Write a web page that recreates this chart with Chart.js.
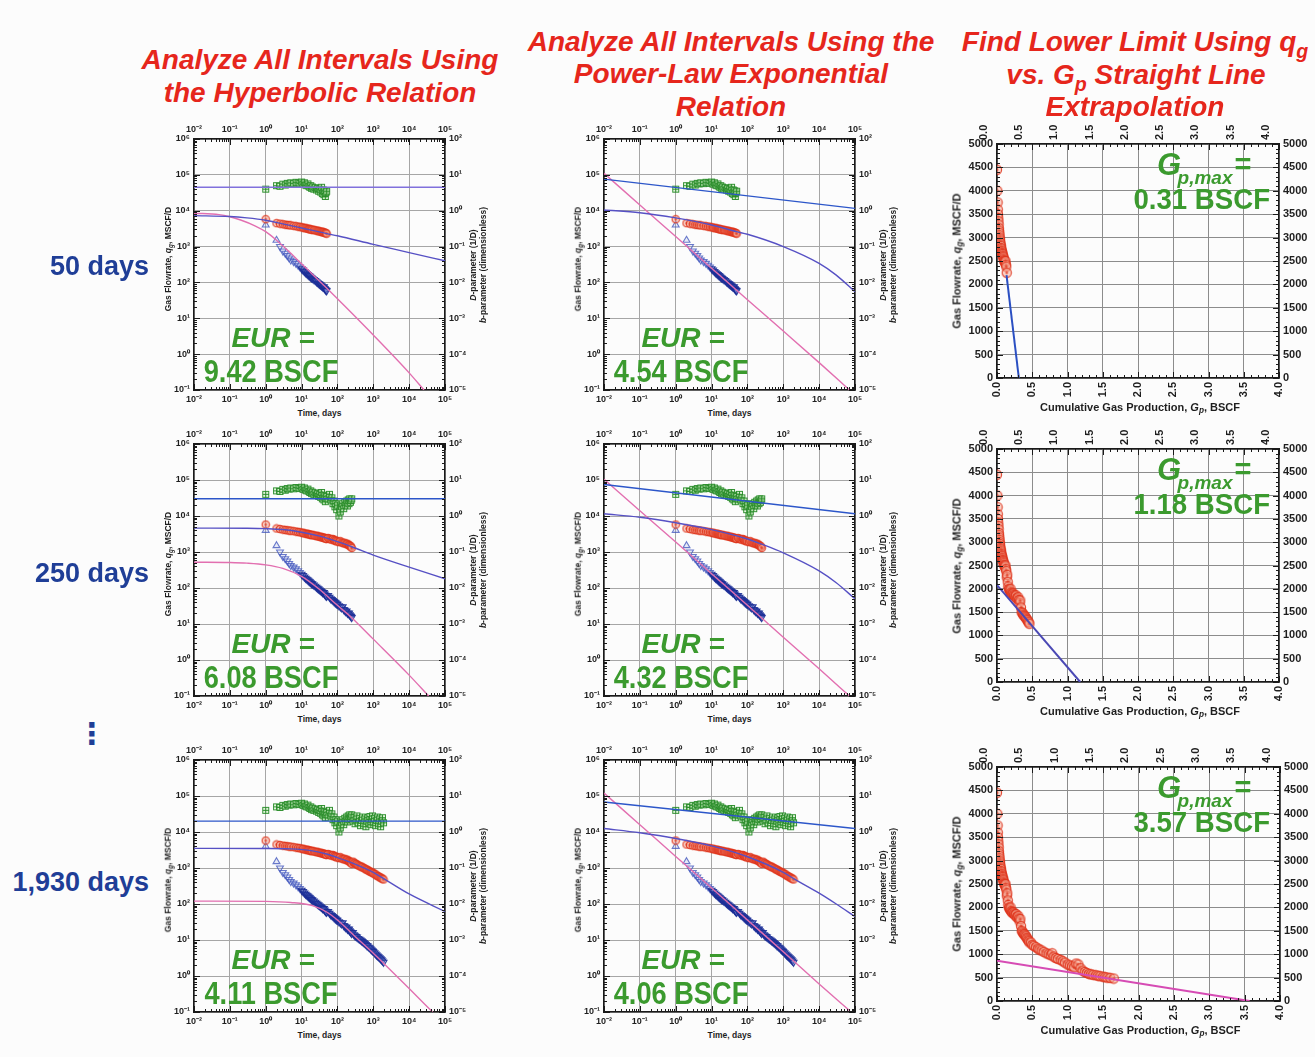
<!DOCTYPE html>
<html>
<head>
<meta charset="utf-8">
<title>Decline analysis by interval</title>
<script src="https://cdn.jsdelivr.net/npm/chart.js@4.4.1/dist/chart.umd.min.js"></script>
<style>
  html, body { margin: 0; padding: 0; }
  body {
    width: 1315px; height: 1057px; position: relative; overflow: hidden;
    background: #fcfcfc; font-family: 'Liberation Sans', Arial, sans-serif;
  }
  canvas { position: absolute; }
  .lbl { position: absolute; white-space: nowrap; line-height: 1; transform: translate(-50%, -50%); }
  .title { color: #e6261c; font-weight: bold; font-style: italic; font-size: 28px; }
  .row   { color: #1f3e97; font-weight: bold; font-size: 27px; }
  .eur   { color: #3b9a2e; font-weight: bold; }
  .ax    { color: #1e1e1e; font-weight: bold; }
  .ax sub { font-size: 0.75em; vertical-align: -0.3em; line-height: 0; }
  .title sub { font-size: 0.7em; vertical-align: -0.35em; line-height: 0; }
</style>
</head>
<body>
<script>
/* ── observed data, shared by every interval (cut off at the interval length) ── */
const obsDays = [1, 2, 2.5, 3, 3.5, 4, 4.5, 5, 6, 7, 8, 9, 10, 11, 12, 13, 14, 15, 16, 17, 18, 19, 20,
  22, 24, 26, 28, 30, 32, 34, 36, 38, 40, 42, 44, 46, 48, 50,
  55, 60, 65, 70, 75, 80, 85, 90, 95, 100, 110, 120, 130, 140, 150, 160, 170, 180, 190, 200,
  210, 220, 230, 240, 250,
  270, 290, 310, 330, 350, 380, 410, 440, 470, 500, 540, 580, 620, 660, 700, 750, 800, 850, 900,
  950, 1000, 1080, 1160, 1240, 1320, 1400, 1500, 1600, 1700, 1800, 1930];

// gas rate, MSCF/D
const obsRate = [5800, 4500, 4350, 4200, 4100, 4000, 3950, 3900, 3800, 3700, 3600, 3550, 3450,
  3400, 3300, 3250, 3200, 3150, 3100, 3050, 3000, 2980, 2950,
  2900, 2850, 2800, 2750, 2700, 2650, 2620, 2580, 2540, 2500, 2470, 2450, 2400, 2350, 2300,
  2450, 2350, 2250, 2200, 2300, 2150, 2050, 2100, 2000, 1950, 1900, 2000, 1850, 1800, 1750,
  1800, 1700, 1650, 1700, 1600, 1550, 1500, 1450, 1400, 1300,
  1500, 1400, 1350, 1300, 1250, 1200, 1150, 1100, 1080, 1050, 1000, 960, 920, 900, 870,
  830, 800, 780, 760, 740, 720, 680, 660, 620, 600, 580, 560, 540, 520, 500, 480];

// D-parameter, 1/D
const obsD = [0.40, 0.15, 0.10, 0.075, 0.065, 0.056, 0.048, 0.042, 0.038, 0.034, 0.030, 0.027, 0.024,
  0.022, 0.020, 0.0185, 0.0175, 0.0165, 0.0155, 0.0148, 0.014, 0.0133, 0.0128,
  0.012, 0.0112, 0.0104, 0.0098, 0.0093, 0.0088, 0.0084, 0.0080, 0.0076, 0.0072, 0.0075, 0.0068, 0.0063, 0.0060, 0.0058,
  0.0062, 0.0055, 0.0050, 0.0048, 0.0045, 0.0042, 0.0040, 0.0038, 0.0036, 0.0035, 0.0032, 0.0030, 0.0028, 0.0030,
  0.0025, 0.0024, 0.0022, 0.0023, 0.0020, 0.0019, 0.0020, 0.0018, 0.0017, 0.0016, 0.0015,
  0.0016, 0.0014, 0.0013, 0.00125, 0.0012, 0.0011, 0.00105, 0.0010, 0.00095, 0.0009, 0.00085, 0.0008, 0.00075,
  0.0007, 0.00068, 0.00063, 0.0006, 0.00056, 0.00053, 0.0005, 0.00048, 0.00044, 0.00041, 0.00038, 0.00036,
  0.00034, 0.00032, 0.0003, 0.00028, 0.00026, 0.00024];

// b-parameter, dimensionless
const obsB = [4.0, 5.0, 4.8, 5.5, 5.2, 5.8, 5.6, 6.0, 5.7, 6.2, 6.0, 5.8, 6.3,
  5.5, 6.0, 5.2, 5.0, 5.6, 4.8, 4.5, 5.0, 4.2, 4.6,
  4.0, 4.4, 3.8, 4.2, 3.5, 4.0, 3.3, 4.5, 3.0, 3.8, 2.8, 3.6, 2.5, 3.2, 3.5,
  3.0, 4.0, 2.8, 3.2, 2.2, 2.6, 1.8, 2.2, 1.5, 2.0, 1.0, 1.3, 1.8, 2.2, 1.6, 2.4, 2.0, 2.6, 1.9, 2.8,
  2.2, 3.0, 2.4, 2.7, 3.0,
  2.0, 2.5, 1.7, 2.2, 2.8, 1.8, 2.4, 1.5, 2.1, 2.6, 1.7, 2.3, 1.4, 2.0, 2.5,
  1.8, 2.7, 1.6, 2.2, 2.8, 1.9, 2.4, 1.5, 2.1, 2.6, 1.7, 2.3, 1.4, 2.0, 2.5, 1.8];

// rate vs cumulative production (BSCF)
const gpCum = [0.000, 0.004, 0.008, 0.011, 0.014, 0.017, 0.020, 0.023, 0.026, 0.029, 0.032, 0.035,
  0.038, 0.041, 0.044, 0.047, 0.050, 0.054, 0.058, 0.062, 0.066, 0.070, 0.074, 0.078, 0.082, 0.086,
  0.090, 0.095, 0.100, 0.105, 0.110, 0.115, 0.120, 0.126, 0.132, 0.138,
  0.145, 0.152, 0.160, 0.168, 0.176, 0.184, 0.192, 0.200, 0.210, 0.220, 0.230, 0.240, 0.250, 0.260,
  0.270, 0.280, 0.290, 0.300, 0.310, 0.320, 0.330, 0.340, 0.350, 0.360, 0.370, 0.380, 0.390, 0.400,
  0.410, 0.420, 0.430, 0.440, 0.450, 0.460,
  0.48, 0.50, 0.52, 0.55, 0.58, 0.60, 0.63, 0.66, 0.70, 0.73, 0.76, 0.78, 0.80, 0.83, 0.86, 0.90,
  0.93, 0.96, 1.00, 1.03, 1.06, 1.09, 1.12, 1.15, 1.18, 1.21, 1.24, 1.27, 1.30, 1.33, 1.36, 1.40,
  1.43, 1.46, 1.50, 1.53, 1.56, 1.60, 1.65];
const gpRate = [4450, 4000, 3750, 3600, 3500, 3420, 3350, 3280, 3200, 3150, 3100, 3050,
  3000, 2960, 2920, 2880, 2850, 2820, 2780, 2750, 2720, 2700, 2670, 2650, 2620, 2600,
  2580, 2550, 2520, 2500, 2480, 2460, 2500, 2420, 2380, 2250,
  2300, 2150, 2050, 2000, 1980, 1950, 2000, 1920, 1900, 1880, 1900, 1870, 1850, 1830,
  1860, 1800, 1780, 1820, 1760, 1700, 1750, 1600, 1500, 1480, 1450, 1430, 1420, 1400,
  1380, 1350, 1330, 1300, 1280, 1250,
  1250, 1200, 1180, 1150, 1120, 1100, 1080, 1050, 1020, 1000, 980, 1020, 950, 920, 900, 880,
  850, 820, 780, 760, 740, 720, 800, 780, 700, 650, 620, 600, 580, 570, 560, 550,
  540, 530, 520, 510, 500, 495, 480];

/* ── intervals ── */
const intervalDays   = [50, 250, 1930];
const intervalLabels = ['50 days', '250 days', '1,930 days'];
const intervalGp     = [0.14, 0.46, 1.65];
const eurHyperbolic  = [9.42, 6.08, 4.11];
const eurPowerLaw    = [4.54, 4.32, 4.06];
const gpMax          = [0.31, 1.18, 3.57];

/* ── fitted curves, [days, value] ── */
const hypBValue = [4.5, 3.0, 2.0];
const hypRate = [
  [[0.01, 7300], [0.1, 6900], [0.3, 6300], [1, 5400], [3, 4300], [10, 3300], [50, 2300], [100, 2000], [1000, 1150], [1e4, 680], [1e5, 400]],
  [[0.01, 4600], [0.3, 4550], [1, 4450], [3, 4200], [10, 3550], [30, 2800], [100, 1950], [250, 1400], [1000, 820], [1e4, 380], [1e5, 180]],
  [[0.01, 3500], [1, 3480], [5, 3400], [20, 3000], [50, 2450], [100, 1950], [300, 1300], [1000, 760], [2000, 500], [1e4, 190], [1e5, 62]]
];
const hypD = [
  [[0.01, 0.85], [0.05, 0.78], [0.1, 0.68], [0.2, 0.55], [0.5, 0.38], [1, 0.26], [2, 0.15], [5, 0.065], [10, 0.033], [50, 0.007], [100, 0.0035], [1000, 3.4e-4], [1e4, 3.0e-5], [2.6e4, 1e-5]],
  [[0.01, 0.052], [0.1, 0.051], [0.3, 0.049], [1, 0.044], [3, 0.035], [10, 0.021], [30, 0.0095], [100, 0.0033], [250, 0.0015], [1000, 3.8e-4], [1e4, 3.8e-5], [3.5e4, 1e-5]],
  [[0.01, 0.012], [1, 0.0118], [5, 0.011], [20, 0.009], [50, 0.006], [100, 0.0036], [300, 0.0013], [1000, 4.3e-4], [2000, 2.2e-4], [1e4, 4.5e-5], [4.5e4, 1e-5]]
];
const pleB = [
  [[0.01, 7.6], [1e5, 1.16]],
  [[0.01, 7.5], [1e5, 1.15]],
  [[0.01, 6.8], [1e5, 1.25]]
];
const pleRate = [
  [[0.01, 10500], [0.1, 8800], [1, 6300], [10, 4000], [50, 2600], [100, 2200], [1000, 1000], [1e4, 340], [3e4, 160], [1e5, 55]],
  [[0.01, 11500], [0.1, 9200], [1, 6500], [10, 4200], [100, 2300], [250, 1650], [1000, 950], [1e4, 300], [3e4, 140], [1e5, 50]],
  [[0.01, 12500], [0.1, 9500], [1, 6600], [10, 4100], [100, 2050], [1000, 760], [2000, 500], [1e4, 200], [3e4, 100], [1e5, 45]]
];
const pleD = [
  [[0.01, 11], [0.1, 1.45], [1, 0.19], [10, 0.025], [100, 0.0033], [1000, 4.4e-4], [1e4, 5.8e-5], [7e4, 1e-5]],
  [[0.01, 10.5], [0.1, 1.4], [1, 0.19], [10, 0.025], [100, 0.0033], [1000, 4.3e-4], [1e4, 5.7e-5], [7e4, 1e-5]],
  [[0.01, 12], [0.1, 1.6], [1, 0.21], [10, 0.028], [100, 0.0036], [1000, 4.7e-4], [1e4, 6e-5], [7e4, 1.1e-5]]
];
// start of each straight-line extrapolation [Gp, q]; it ends at (gpMax, 0)
const gpLineStart = [[0.135, 2200], [0, 2080], [0, 860]];

/* ── axis ticks ── */
const timeTicks  = [1e-2, 1e-1, 1, 1e1, 1e2, 1e3, 1e4, 1e5];
const rateTicks  = [1e-1, 1, 1e1, 1e2, 1e3, 1e4, 1e5, 1e6];
const paramTicks = [1e-5, 1e-4, 1e-3, 1e-2, 1e-1, 1, 1e1, 1e2];
const gpTicks    = [0, 0.5, 1.0, 1.5, 2.0, 2.5, 3.0, 3.5, 4.0];
const qTicks     = [0, 500, 1000, 1500, 2000, 2500, 3000, 3500, 4000, 4500, 5000];

/* ── layout (plot areas in page pixels) ── */
const hypBoxes  = [{ x: 194, y: 139, w: 251, h: 251 }, { x: 194, y: 444, w: 251, h: 252 }, { x: 194, y: 760, w: 251, h: 252 }];
const pleBoxes  = [{ x: 604, y: 139, w: 251, h: 251 }, { x: 604, y: 444, w: 251, h: 252 }, { x: 604, y: 760, w: 251, h: 252 }];
const cartBoxes = [{ x: 997, y: 144, w: 282, h: 234 }, { x: 997, y: 449, w: 282, h: 233 }, { x: 997, y: 767, w: 283, h: 234 }];
const rowCenters = [266, 573, 882];

const RATE_LINE = '#5650c4';
const D_LINE    = '#e26fb0';
const B_LINE    = '#2c56c9';
const hypBColors  = ['#8070dc', B_LINE, B_LINE];
const cartColors  = ['#2a4fc2', '#4a48b4', '#d64bb4'];

const SUP = { '-': '⁻', '0': '⁰', '1': '¹', '2': '²', '3': '³', '4': '⁴', '5': '⁵', '6': '⁶', '7': '⁷', '8': '⁸', '9': '⁹' };
const pow10Label = v => '10' + String(Math.round(Math.log10(v))).split('').map(c => SUP[c]).join('');

/* ── marker images ── */
function squareMarker() {
  const c = document.createElement('canvas');
  c.width = c.height = 9;
  const g = c.getContext('2d');
  g.fillStyle = 'rgba(205,238,195,0.55)';
  g.fillRect(1, 1, 7, 7);
  g.strokeStyle = 'rgba(34,136,36,0.9)';
  g.lineWidth = 1;
  g.strokeRect(1.5, 1.5, 6, 6);
  g.beginPath();
  g.moveTo(4.5, 1.5); g.lineTo(4.5, 7.5);
  g.moveTo(1.5, 4.5); g.lineTo(7.5, 4.5);
  g.stroke();
  return c;
}
function circleMarker(size, r) {
  const c = document.createElement('canvas');
  c.width = c.height = size;
  const g = c.getContext('2d');
  const m = size / 2;
  g.beginPath();
  g.arc(m, m, r, 0, Math.PI * 2);
  g.fillStyle = 'rgba(248,180,160,0.5)';
  g.fill();
  g.strokeStyle = 'rgba(222,48,24,0.85)';
  g.lineWidth = 1.2;
  g.stroke();
  g.beginPath();
  g.moveTo(m - 1.5, m); g.lineTo(m + 1.5, m);
  g.moveTo(m, m - 1.5); g.lineTo(m, m + 1.5);
  g.stroke();
  return c;
}
const SQUARE = squareMarker();
const CIRCLE = circleMarker(10, 3.7);
const CIRCLE_BIG = circleMarker(12, 4.6);

/* ── inward tick marks on all four sides ── */
const innerTicks = {
  id: 'innerTicks',
  afterDraw(chart, _args, o) {
    const { ctx, chartArea: a, scales } = chart;
    ctx.save();
    ctx.strokeStyle = '#1a1a1a';
    ctx.lineWidth = 1;
    ctx.beginPath();
    for (const [v, len] of o.x) {
      const p = Math.round(scales.x.getPixelForValue(v)) + 0.5;
      ctx.moveTo(p, a.bottom); ctx.lineTo(p, a.bottom - len);
      ctx.moveTo(p, a.top); ctx.lineTo(p, a.top + len);
    }
    for (const [v, len] of o.y) {
      const p = Math.round(scales.y.getPixelForValue(v)) + 0.5;
      ctx.moveTo(a.left, p); ctx.lineTo(a.left + len, p);
    }
    for (const [v, len] of o.yR) {
      const p = Math.round(scales.yR.getPixelForValue(v)) + 0.5;
      ctx.moveTo(a.right, p); ctx.lineTo(a.right - len, p);
    }
    ctx.stroke();
    ctx.restore();
  }
};

function logMarks(decades) {
  const out = [];
  decades.forEach((d, i) => {
    out.push([d, 6]);
    if (i < decades.length - 1) for (let k = 2; k < 10; k++) out.push([d * k, 3]);
  });
  return out;
}
function linMarks(max, major, minor) {
  const out = [];
  const n = Math.round(max / minor);
  for (let i = 0; i <= n; i++) {
    const v = i * minor;
    out.push([v, Math.abs(v / major - Math.round(v / major)) < 1e-6 ? 6 : 3]);
  }
  return out;
}

/* ── axes ── */
const tickFontLog  = { family: 'Liberation Sans', size: 9, weight: 'bold' };
const tickFontCart = { family: 'Liberation Sans', size: 11, weight: 'bold' };

function axis(type, pos, min, max, ticks, size, grid, font, fmt, rot) {
  const vertical = pos === 'left' || pos === 'right';
  return {
    type, position: pos, min, max,
    afterBuildTicks: s => { s.ticks = ticks.map(v => ({ value: v })); },
    afterFit: s => { if (vertical) s.width = size; else s.height = size; },
    ticks: {
      callback: fmt, font, color: '#1e1e1e', padding: 4, autoSkip: false,
      maxRotation: rot, minRotation: rot
    },
    grid: { display: grid, color: type === 'logarithmic' ? '#a6a6a6' : '#8c8c8c', lineWidth: 1, drawTicks: false },
    border: { display: true, color: '#1a1a1a', width: 1.5 }
  };
}

function makeCanvas(box, pad) {
  const c = document.createElement('canvas');
  c.width = box.w + pad.l + pad.r;
  c.height = box.h + pad.t + pad.b;
  c.style.left = (box.x - pad.l) + 'px';
  c.style.top = (box.y - pad.t) + 'px';
  document.body.appendChild(c);
  return c;
}

const asPoints = pairs => pairs.map(([x, y]) => ({ x, y }));
const curve = (pairs, color, axisId, width) => ({
  data: asPoints(pairs), yAxisID: axisId, showLine: true, borderColor: color,
  borderWidth: width || 1.4, pointRadius: 0, tension: 0.35, cubicInterpolationMode: 'monotone', order: 0
});

const baseOptions = extra => ({
  responsive: false, animation: false, devicePixelRatio: 1, events: [],
  layout: { padding: 0 },
  plugins: { legend: { display: false }, tooltip: { enabled: false }, innerTicks: extra }
});

/* ── log-log decline panel (rate on left axis, D and b on right axis) ── */
function logPanel(box, row, lines) {
  const pad = { l: 30, r: 30, t: 17, b: 17 };
  const canvas = makeCanvas(box, pad);
  const n = obsDays.filter(d => d <= intervalDays[row]).length;
  const obs = arr => obsDays.slice(0, n).map((d, i) => ({ x: d, y: arr[i] }));

  const datasets = [
    ...lines,
    { data: obs(obsB), yAxisID: 'yR', pointStyle: SQUARE, pointRadius: 4, order: 2 },
    { data: obs(obsRate), yAxisID: 'y', pointStyle: CIRCLE, pointRadius: 4, order: 2 },
    {
      data: obs(obsD), yAxisID: 'yR', pointStyle: 'triangle', pointRadius: 4, pointBorderWidth: 1.1,
      pointBorderColor: c => (c.dataIndex < 12 ? 'rgba(70,90,190,0.8)' : 'rgba(26,44,150,0.9)'),
      pointBackgroundColor: 'rgba(150,165,230,0.2)',
      pointRotation: c => (c.dataIndex < 2 ? 0 : 180), order: 2
    }
  ];

  const opts = baseOptions({ x: logMarks(timeTicks), y: logMarks(rateTicks), yR: logMarks(paramTicks) });
  opts.scales = {
    x:    axis('logarithmic', 'bottom', 1e-2, 1e5, timeTicks, pad.b, true, tickFontLog, pow10Label, 0),
    xTop: axis('logarithmic', 'top', 1e-2, 1e5, timeTicks, pad.t, false, tickFontLog, pow10Label, 0),
    y:    axis('logarithmic', 'left', 1e-1, 1e6, rateTicks, pad.l, true, tickFontLog, pow10Label, 0),
    yR:   axis('logarithmic', 'right', 1e-5, 1e2, paramTicks, pad.r, false, tickFontLog, pow10Label, 0)
  };
  new Chart(canvas, { type: 'scatter', data: { datasets }, options: opts, plugins: [innerTicks] });

  // axis titles
  label('Gas Flowrate, <i>q<sub>g</sub></i>, MSCF/D', box.x - 26, box.y + box.h / 2 - 6, 'ax',
    'font-size:8.5px;transform:translate(-50%,-50%) rotate(-90deg)');
  label('Time, days', box.x + box.w / 2, box.y + box.h + 23, 'ax', 'font-size:8.5px');
  label('<i>D</i>-parameter (1/D)', box.x + box.w + 28, box.y + box.h / 2, 'ax',
    'font-size:8.5px;transform:translate(-50%,-50%) rotate(-90deg)');
  label('<i>b</i>-parameter (dimensionless)', box.x + box.w + 38, box.y + box.h / 2, 'ax',
    'font-size:8.5px;transform:translate(-50%,-50%) rotate(-90deg)');
}

/* ── q vs Gp straight-line panel ── */
function cartPanel(box, row) {
  const pad = { l: 40, r: 40, t: 28, b: 28 };
  const canvas = makeCanvas(box, pad);
  const pts = gpCum.map((g, i) => ({ x: g, y: gpRate[i] })).filter(p => p.x <= intervalGp[row]);
  const line = [gpLineStart[row], [gpMax[row], 0]];

  const datasets = [
    { data: asPoints(line), showLine: true, borderColor: cartColors[row], borderWidth: 2, pointRadius: 0, order: 0 },
    { data: pts, pointStyle: CIRCLE_BIG, pointRadius: 5, order: 1 }
  ];
  const gpFmt = v => v.toFixed(1);
  const qFmt = v => String(v);
  const opts = baseOptions({ x: linMarks(4, 0.5, 0.1), y: linMarks(5000, 500, 100), yR: linMarks(5000, 500, 100) });
  opts.scales = {
    x:    axis('linear', 'bottom', 0, 4, gpTicks, pad.b, true, tickFontCart, gpFmt, 90),
    xTop: axis('linear', 'top', 0, 4, gpTicks, pad.t, false, tickFontCart, gpFmt, 90),
    y:    axis('linear', 'left', 0, 5000, qTicks, pad.l, true, tickFontCart, qFmt, 0),
    yR:   axis('linear', 'right', 0, 5000, qTicks, pad.r, false, tickFontCart, qFmt, 0)
  };
  new Chart(canvas, { type: 'scatter', data: { datasets }, options: opts, plugins: [innerTicks] });

  label('Gas Flowrate, <i>q<sub>g</sub></i>, MSCF/D', box.x - 40, box.y + box.h / 2, 'ax',
    'font-size:11px;transform:translate(-50%,-50%) rotate(-90deg)');
  label('Cumulative Gas Production, <i>G<sub>p</sub></i>, BSCF', box.x + box.w / 2 + 2, box.y + box.h + 29, 'ax',
    'font-size:11px');

  // G_p,max annotation
  label('G', box.x + 172, box.y + 20, 'eur', 'font-size:31px;font-style:italic');
  label('p,max', box.x + 208, box.y + 33, 'eur', 'font-size:19px;font-style:italic');
  label('=', box.x + 246, box.y + 20, 'eur', 'font-size:29px');
  label(gpMax[row].toFixed(2) + ' BSCF', box.x + 273, box.y + 55, 'eur',
    'font-size:30px;transform-origin:100% 50%;transform:translate(-100%,-50%) scaleX(0.92)');
}

/* ── text helper ── */
function label(html, x, y, cls, style) {
  const d = document.createElement('div');
  d.className = 'lbl ' + cls;
  d.innerHTML = html;
  d.style.left = x + 'px';
  d.style.top = y + 'px';
  if (style) d.style.cssText += ';' + style;
  document.body.appendChild(d);
  return d;
}

/* ── build all panels ── */
for (let r = 0; r < 3; r++) {
  logPanel(hypBoxes[r], r, [
    curve([[1e-2, hypBValue[r]], [1e5, hypBValue[r]]], hypBColors[r], 'yR', 1.4),
    curve(hypRate[r], RATE_LINE, 'y'),
    curve(hypD[r], D_LINE, 'yR')
  ]);
  logPanel(pleBoxes[r], r, [
    curve(pleB[r], B_LINE, 'yR', 1.4),
    curve(pleRate[r], RATE_LINE, 'y'),
    curve(pleD[r], D_LINE, 'yR')
  ]);
  cartPanel(cartBoxes[r], r);

  // EUR annotations
  for (const [box, eur] of [[hypBoxes[r], eurHyperbolic[r]], [pleBoxes[r], eurPowerLaw[r]]]) {
    label('EUR =', box.x + 79, box.y + box.h - 52, 'eur', 'font-size:28px;font-style:italic');
    label(eur.toFixed(2) + ' BSCF', box.x + 77, box.y + box.h - 19, 'eur',
      'font-size:32px;transform:translate(-50%,-50%) scaleX(0.85)');
  }

  label(intervalLabels[r], 149, rowCenters[r], 'row', 'transform:translate(-100%,-50%)');
}
label('⋮', 92, 734, 'row', "font-size:30px;font-family:'DejaVu Sans'");

/* ── column headings ── */
label('Analyze All Intervals Using', 320, 60, 'title');
label('the Hyperbolic Relation', 320, 93, 'title');
label('Analyze All Intervals Using the', 731, 42, 'title');
label('Power-Law Exponential', 731, 74, 'title');
label('Relation', 731, 107, 'title');
label('Find Lower Limit Using <i>q<sub>g</sub></i>', 1135, 42, 'title');
label('vs. <i>G<sub>p</sub></i> Straight Line', 1136, 75, 'title');
label('Extrapolation', 1135, 107, 'title');
</script>
</body>
</html>
